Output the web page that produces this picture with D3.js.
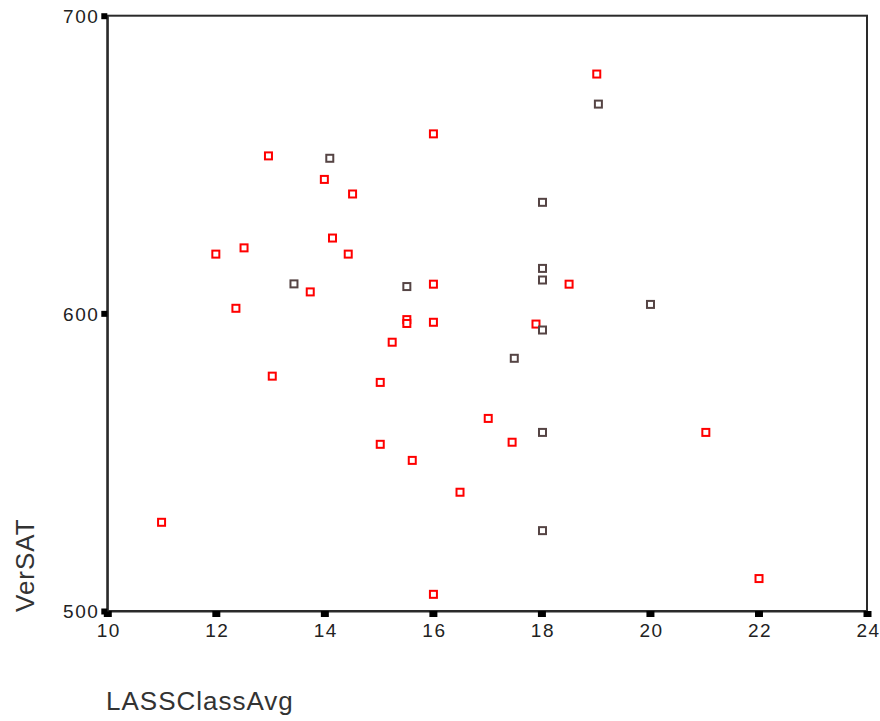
<!DOCTYPE html>
<html>
<head>
<meta charset="utf-8">
<script src="https://cdn.jsdelivr.net/npm/d3@7"></script>
<style>
  html, body { margin: 0; padding: 0; background: #fff; }
  svg { display: block; }
</style>
</head>
<body>
<script>
// ---- data ----
const lassClassAvg = [
  11.0, 12.0, 12.52, 12.37, 12.97, 13.04, 13.44, 13.74, 14.0, 14.1,
  14.15, 14.52, 14.44, 15.03, 15.03, 15.25, 15.52, 15.52, 15.52, 15.62,
  16.01, 16.01, 16.01, 16.01, 16.5, 17.02, 17.46, 17.5, 17.9, 18.02,
  18.02, 18.02, 18.02, 18.02, 18.02, 18.51, 19.02, 19.05, 20.01, 21.03,
  22.01
];
const verSAT = [
  529.8, 619.9, 622.0, 601.7, 652.9, 578.9, 609.9, 607.2, 645.0, 652.1,
  625.3, 640.1, 619.9, 576.8, 556.0, 590.3, 609.0, 597.9, 596.6, 550.6,
  660.3, 609.8, 597.0, 505.6, 539.9, 564.7, 556.7, 584.9, 596.4, 637.3,
  615.1, 611.2, 594.4, 560.0, 527.0, 609.8, 680.4, 670.3, 603.0, 560.0,
  510.9
];
const xTicks = [10, 12, 14, 16, 18, 20, 22, 24];
const yTicks = [500, 600, 700];
const xTitle = "LASSClassAvg";
const yTitle = "VerSAT";
// markers that appear dark-outlined in the original
const darkMarkers = [6, 9, 16, 27, 29, 30, 31, 32, 33, 34, 37, 38];

// ---- layout ----
const W = 880, H = 721;
const mLeft = 107.3, mRight = 867, mTop = 15.7, mBottom = 611;

const svg = d3.select("body").append("svg")
  .attr("width", W).attr("height", H)
  .style("background", "#fff");

const x = d3.scaleLinear().domain([10, 24]).range([mLeft, mRight]);
const y = d3.scaleLinear().domain([500, 700]).range([mBottom, mTop]);

// frame
svg.append("rect")
  .attr("x", mLeft).attr("y", mTop)
  .attr("width", mRight - mLeft).attr("height", mBottom - mTop)
  .attr("fill", "none").attr("stroke", "#2a2a2a").attr("stroke-width", 2);

// x axis
const gx = svg.append("g")
  .attr("transform", `translate(0,${mBottom})`)
  .call(d3.axisBottom(x).tickValues(xTicks).tickFormat(d3.format("d")).tickSize(6).tickSizeOuter(0));
gx.select(".domain").attr("stroke", "#2a2a2a").attr("stroke-width", 2);
gx.selectAll(".tick line").attr("stroke", "#000").attr("stroke-width", 8);
gx.selectAll(".tick text")
  .attr("y", 26).attr("dy", 0).attr("dx", 1)
  .attr("fill", "#222")
  .style("font-family", "'Liberation Sans', Arial, sans-serif")
  .style("font-size", "19px")
  .style("letter-spacing", "1.5px");

// y axis
const gy = svg.append("g")
  .attr("transform", `translate(${mLeft},0)`)
  .call(d3.axisLeft(y).tickValues(yTicks).tickFormat(d3.format("d")).tickSize(6).tickSizeOuter(0));
gy.select(".domain").attr("stroke", "#2a2a2a").attr("stroke-width", 2);
gy.selectAll(".tick line").attr("stroke", "#000").attr("stroke-width", 6);
gy.selectAll(".tick text")
  .attr("x", -8).attr("dy", "0.36em")
  .attr("fill", "#222")
  .style("font-family", "'Liberation Sans', Arial, sans-serif")
  .style("font-size", "19px")
  .style("letter-spacing", "1.5px");

// points
const pts = lassClassAvg.map((v, i) => ({ x: v, y: verSAT[i], dark: darkMarkers.includes(i) }));
const s = 7;
svg.append("g").selectAll("rect")
  .data(pts)
  .join("rect")
  .attr("x", d => x(d.x) - s / 2)
  .attr("y", d => y(d.y) - s / 2)
  .attr("width", s).attr("height", s)
  .attr("fill", "#fff")
  .attr("stroke", d => d.dark ? "#554444" : "#ff0000")
  .attr("stroke-width", 2);

// titles
svg.append("text")
  .attr("x", 106).attr("y", 710)
  .attr("fill", "#333")
  .style("font-family", "'Liberation Sans', Arial, sans-serif")
  .style("font-size", "26px")
  .style("letter-spacing", "1px")
  .text(xTitle);

svg.append("text")
  .attr("transform", "translate(34,612) rotate(-90)")
  .attr("fill", "#333")
  .style("font-family", "'Liberation Sans', Arial, sans-serif")
  .style("font-size", "26px")
  .style("letter-spacing", "1px")
  .text(yTitle);
</script>
</body>
</html>
